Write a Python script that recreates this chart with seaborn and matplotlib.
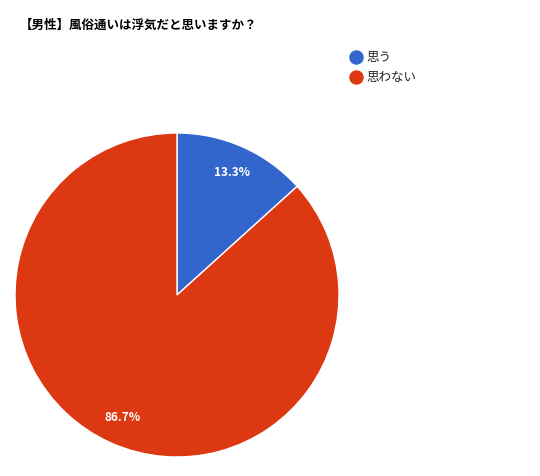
import matplotlib
matplotlib.use("Agg")
import matplotlib.pyplot as plt
from matplotlib.lines import Line2D
import seaborn as sns

categories = ["思う", "思わない"]
values = [13.3, 86.7]
colors = ["#3366cc", "#dc3912"]
title = "【男性】風俗通いは浮気だと思いますか？"

sns.set_theme(style="white")
plt.rcParams['font.family'] = ['Noto Sans CJK JP', 'DejaVu Sans']

W, H = 540, 476
fig = plt.figure(figsize=(W / 100, H / 100), dpi=100)
fig.patch.set_facecolor("white")

cx, cy, r = 177, 295, 162
ax = fig.add_axes([(cx - r) / W, (H - cy - r) / H, 2 * r / W, 2 * r / H])
wedges, texts, autotexts = ax.pie(
    values, colors=colors, startangle=90, counterclock=False,
    autopct="%1.1f%%", pctdistance=0.83, radius=1,
    wedgeprops=dict(edgecolor="white", linewidth=1),
    textprops=dict(color="white", fontsize=8.5, fontweight="bold"),
)
ax.set_xlim(-1, 1)
ax.set_ylim(-1, 1)
ax.set_aspect("equal")
ax.axis("off")

fig.text(20 / W, 1 - 25 / H, title, fontsize=9, fontweight="bold",
         color="#000000", ha="left", va="center")

handles = [Line2D([0], [0], marker="o", linestyle="", markersize=9.4,
                  markerfacecolor=c, markeredgecolor=c) for c in colors]
leg = fig.legend(handles, categories, loc="upper left",
                 bbox_to_anchor=(349 / W, 1 - 51 / H), frameon=False,
                 fontsize=9, handletextpad=0.25, labelspacing=0.6,
                 handlelength=1.1, borderaxespad=0, borderpad=0)
for t in leg.get_texts():
    t.set_color("#222222")

fig.savefig("out.png", dpi=100, facecolor="white")
